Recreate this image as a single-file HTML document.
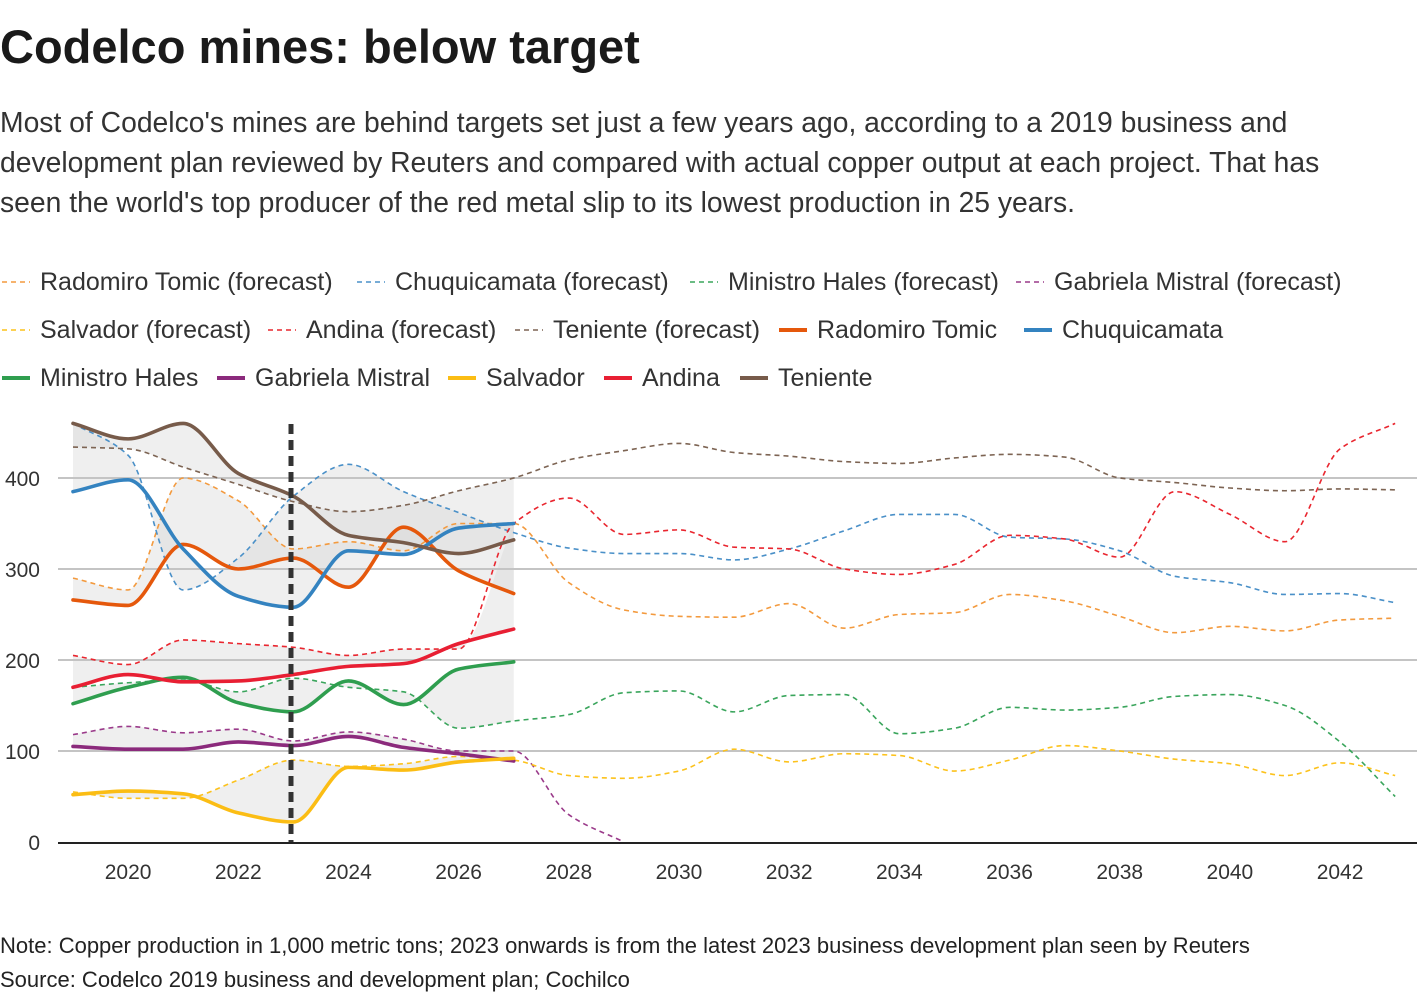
<!DOCTYPE html>
<html><head><meta charset="utf-8">
<style>
body{margin:0;width:1420px;height:1000px;background:#fff;font-family:"Liberation Sans",sans-serif;color:#222;overflow:hidden;position:relative}
.t{position:absolute;white-space:nowrap}
</style></head><body>
<div class="t" style="left:0;top:19px;font-size:47px;font-weight:bold;color:#1a1a1a">Codelco mines: below target</div>
<div class="t" style="left:0;top:102px;font-size:28.3px;line-height:40px;color:#333">Most of Codelco's mines are behind targets set just a few years ago, according to a 2019 business and<br>development plan reviewed by Reuters and compared with actual copper output at each project. That has<br>seen the world's top producer of the red metal slip to its lowest production in 25 years.</div>
<svg id="s" width="1420" height="1000" style="position:absolute;left:0;top:0"></svg>
<div class="t" style="left:0;top:933px;font-size:22px;color:#222">Note: Copper production in 1,000 metric tons; 2023 onwards is from the latest 2023 business development plan seen by Reuters</div>
<div class="t" style="left:0;top:967px;font-size:22px;color:#222">Source: Codelco 2019 business and development plan; Cochilco</div>
<script>
const NS="http://www.w3.org/2000/svg",s=document.getElementById('s');
function el(n,a,txt){const e=document.createElementNS(NS,n);for(const k in a)e.setAttribute(k,a[k]);if(txt!=null)e.textContent=txt;s.appendChild(e);return e;}
const X=y=>73+(y-2019)*55.09, Y=v=>842-v*0.91;
function mono(pts){const n=pts.length;if(n<2)return '';const d=[],m=[];for(let i=0;i<n-1;i++)d.push((pts[i+1][1]-pts[i][1])/(pts[i+1][0]-pts[i][0]));
m[0]=d[0];m[n-1]=d[n-2];for(let i=1;i<n-1;i++){if(d[i-1]*d[i]<=0)m[i]=0;else m[i]=2/((1/d[i-1])+(1/d[i]));}
let p='M'+pts[0][0]+','+pts[0][1];for(let i=0;i<n-1;i++){const h=pts[i+1][0]-pts[i][0];p+=' C'+(pts[i][0]+h/3)+','+(pts[i][1]+m[i]*h/3)+' '+(pts[i+1][0]-h/3)+','+(pts[i+1][1]-m[i+1]*h/3)+' '+pts[i+1][0]+','+pts[i+1][1];}return p;}
function pts(a){return a.map((v,i)=>[X(2019+i),Y(v)]);}
const F={
rt:[290,277,400,375,322,330,320,350,350,285,255,248,247,262,235,250,252,272,265,248,230,237,232,244,246],
ch:[460,425,277,312,380,415,385,362,340,323,317,317,310,322,342,360,360,335,333,320,292,285,272,273,263],
mh:[170,175,178,165,180,170,165,125,133,140,164,166,143,161,162,119,125,148,145,148,160,162,150,110,50],
gm:[118,127,120,124,111,121,113,100,100,30,0],
sa:[55,48,48,68,90,83,86,94,90,73,70,78,102,88,97,95,78,90,106,100,91,86,73,87,73],
an:[205,195,222,218,214,205,212,212,350,378,338,343,324,322,300,294,305,337,333,313,385,360,330,432,460],
te:[434,432,412,393,374,363,370,386,400,420,430,438,428,424,418,416,422,426,423,400,395,389,386,388,387]};
const A={
rt:[266,260,327,300,312,280,346,298,273],
ch:[385,398,322,270,258,320,316,345,350],
mh:[152,170,181,153,143,177,151,190,198],
gm:[105,102,102,110,106,116,104,97,89],
sa:[52,56,53,32,22,82,79,88,92],
an:[170,184,176,177,184,193,196,218,234],
te:[460,443,460,405,380,337,329,317,332]};
const CF={rt:'#f39a3e',ch:'#4a90c8',mh:'#3aa55c',gm:'#9a3a8a',sa:'#fcc21c',an:'#e9262f',te:'#7d6453'};
const CA={rt:'#e5580c',ch:'#3483c0',mh:'#2f9e4f',gm:'#8b2a7c',sa:'#fbbd14',an:'#e81f33',te:'#775b4a'};
for(const k in A){const a=pts(A[k]),f=pts(F[k].slice(0,9));
const pa=mono(a),pf=mono(f.slice().reverse());
el('path',{d:pa+' L'+pf.slice(1)+' Z',fill:'#d8d8d8','fill-opacity':0.4,stroke:'none'});}
for(const v of [100,200,300,400]){el('line',{x1:58,x2:1417,y1:Y(v),y2:Y(v),stroke:'#c4c4c4','stroke-width':2});}
for(const v of [0,100,200,300,400])el('text',{x:40,y:Y(v)+8,'text-anchor':'end','font-size':21,fill:'#333'},v);
for(let y=2020;y<=2042;y+=2)el('text',{x:X(y),y:879,'text-anchor':'middle','font-size':21,fill:'#333'},y);
for(const k in F)el('path',{d:mono(pts(F[k])),fill:'none',stroke:CF[k],'stroke-width':1.6,'stroke-dasharray':'5,4'});
for(const k of ['rt','ch','mh','gm','sa','an','te'])el('path',{d:mono(pts(A[k])),fill:'none',stroke:CA[k],'stroke-width':3.6,'stroke-linecap':'round'});
el('line',{x1:58,x2:1417,y1:843,y2:843,stroke:'#222','stroke-width':2});
el('line',{x1:291,x2:291,y1:424,y2:842,stroke:'#333','stroke-width':5,'stroke-dasharray':'10,6'});
const L=[
[0,282,'rt','Radomiro Tomic (forecast)',1],[355,282,'ch','Chuquicamata (forecast)',1],[688,282,'mh','Ministro Hales (forecast)',1],[1014,282,'gm','Gabriela Mistral (forecast)',1],
[0,330,'sa','Salvador (forecast)',1],[266,330,'an','Andina (forecast)',1],[513,330,'te','Teniente (forecast)',1],[777,330,'rt','Radomiro Tomic',0],[1022,330,'ch','Chuquicamata',0],
[0,378,'mh','Ministro Hales',0],[215,378,'gm','Gabriela Mistral',0],[446,378,'sa','Salvador',0],[602,378,'an','Andina',0],[738,378,'te','Teniente',0]];
for(const [x,y,k,t,d] of L){
if(d)el('line',{x1:x+2,x2:x+30,y1:y,y2:y,stroke:CF[k],'stroke-width':1.6,'stroke-dasharray':'5,4'});
else el('line',{x1:x+2,x2:x+30,y1:y,y2:y,stroke:CA[k],'stroke-width':4});
el('text',{x:x+40,y:y+8,'font-size':25,fill:'#333'},t);}
</script>
</body></html>
